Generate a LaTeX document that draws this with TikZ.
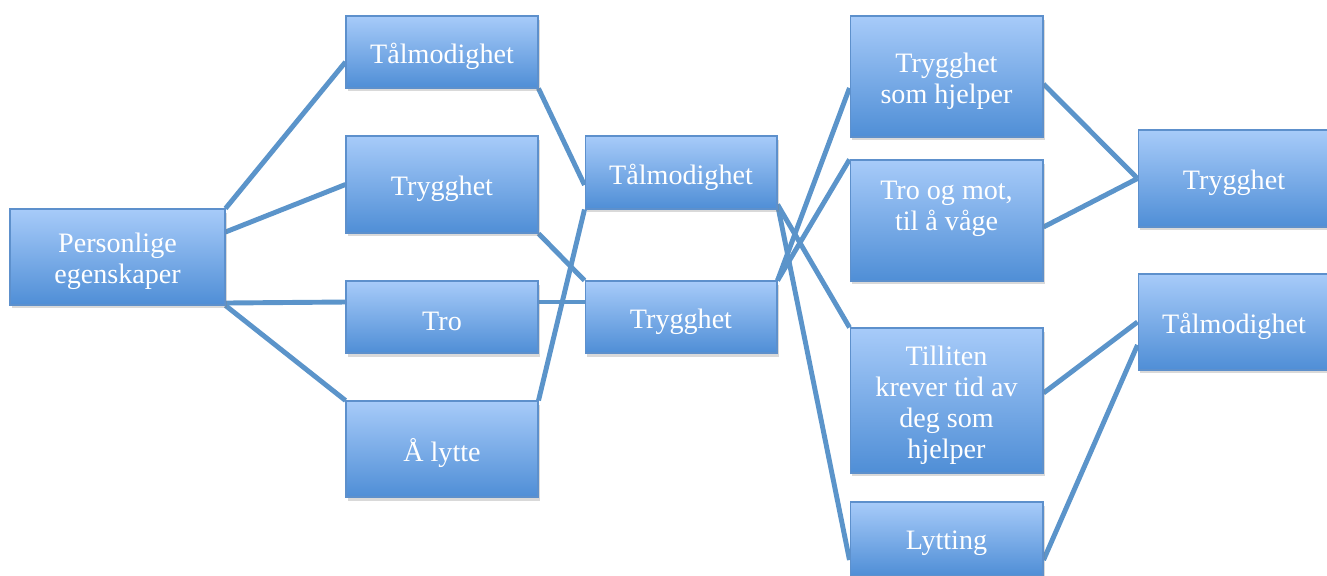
\documentclass[tikz,border=0pt]{standalone}
\usepackage{fontspec}
\setmainfont{Liberation Serif}
\usetikzlibrary{shadows,backgrounds}

\definecolor{boxtop}{HTML}{A7CBF9}
\definecolor{boxbot}{HTML}{4F8ED6}
\definecolor{boxline}{HTML}{5D90CC}
\definecolor{linkcol}{HTML}{5B94CA}

\begin{document}
\begin{tikzpicture}[x=0.02cm,y=-0.02cm]
  \tikzset{
    boks/.style={rectangle,draw=boxline,line width=0.6pt,top color=boxtop,bottom color=boxbot,
      inner sep=0pt,minimum width=3.84cm,
      drop shadow={opacity=0.3,shadow xshift=0.4mm,shadow yshift=-0.7mm}},
    tekst/.style={text=white,align=center,inner sep=0pt,yshift=-0.9mm,
      font=\fontsize{16}{17.6}\selectfont},
    link/.style={draw=linkcol,line width=2.8pt}
  }
  \clip (0,0) rectangle (1327,575);

%%%%%%%%%%%%%%%%%%%%%%%%%%
  \node[boks,minimum width=4.3cm,minimum height=1.92cm,label={[tekst]center:Personlige\\egenskaper}] (Pers) at (117.5,257) {};

%%%%%%%%%%%%%%%%%%%%%%%%%%
  \node[boks,minimum height=1.44cm,label={[tekst]center:Tålmodighet}] (Taal1) at (442,52) {};
  \node[boks,minimum height=1.94cm,label={[tekst]center:Trygghet}] (Tryg1) at (442,184.5) {};
  \node[boks,minimum height=1.44cm,label={[tekst]center:Tro}] (Tro) at (442,317) {};
  \node[boks,minimum height=1.92cm,label={[tekst]center:Å lytte}] (Lytte) at (442,449) {};

%%%%%%%%%%%%%%%%%%%%%%%%%%
  \node[boks,minimum height=1.46cm,label={[tekst]center:Tålmodighet}] (Taal2) at (681,172.5) {};
  \node[boks,minimum height=1.44cm,label={[tekst]center:Trygghet}] (Tryg2) at (681,317) {};

%%%%%%%%%%%%%%%%%%%%%%%%%%
  \node[boks,minimum width=3.86cm,minimum height=2.42cm,label={[tekst]center:Trygghet\\som hjelper}] (TrygHj) at (946.5,76.5) {};
  \node[boks,minimum width=3.86cm,minimum height=2.42cm,label={[tekst,yshift=3.2mm]center:Tro og mot,\\til å våge}] (TroMot) at (946.5,220.5) {};
  \node[boks,minimum width=3.86cm,minimum height=2.9cm,label={[tekst]center:Tilliten\\krever tid av\\deg som\\hjelper}] (Tillit) at (946.5,400.5) {};
  \node[boks,minimum width=3.86cm,minimum height=1.48cm,label={[tekst]center:Lytting}] (Lytting) at (946.5,539) {};

%%%%%%%%%%%%%%%%%%%%%%%%%%
  \node[boks,minimum height=1.94cm,label={[tekst]center:Trygghet}] (TrygR) at (1234,178.5) {};
  \node[boks,minimum height=1.92cm,label={[tekst]center:Tålmodighet}] (TaalR) at (1234,322) {};

%LINKS
  \begin{scope}[on background layer]
    \draw[link] (Pers.north east) -- ([yshift=-2mm]Taal1.west);
    \draw[link] ([yshift=5mm]Pers.east) -- (Tryg1.west);
    \draw[link] ([yshift=0.5mm]Pers.south east) -- ([yshift=3mm]Tro.west);
    \draw[link] (Pers.south east) -- (Lytte.north west);

    \draw[link] (Taal1.south east) -- ([yshift=-2.5mm]Taal2.west);
    \draw[link] (Tryg1.south east) -- (Tryg2.north west);
    \draw[link] ([yshift=3mm]Tro.east) -- ([yshift=3mm]Tryg2.west);
    \draw[link] (Lytte.north east) -- (Taal2.south west);

    \draw[link] ([yshift=1mm]Taal2.south east) -- (Tillit.north west);
    \draw[link] ([yshift=1mm]Taal2.south east) -- ([yshift=-4.2mm]Lytting.west);
    \draw[link] (Tryg2.north east) -- ([yshift=-2.3mm]TrygHj.west);
    \draw[link] (Tryg2.north east) -- (TroMot.north west);

    \draw[link] ([yshift=-1.5mm]TrygHj.east) -- (TrygR.west);
    \draw[link] ([yshift=-1.3mm]TroMot.east) -- (TrygR.west);
    \draw[link] ([yshift=1.5mm]Tillit.east) -- (TaalR.west);
    \draw[link] ([yshift=-4.2mm]Lytting.east) -- ([yshift=-4.6mm]TaalR.west);
  \end{scope}

\end{tikzpicture}
\end{document}
